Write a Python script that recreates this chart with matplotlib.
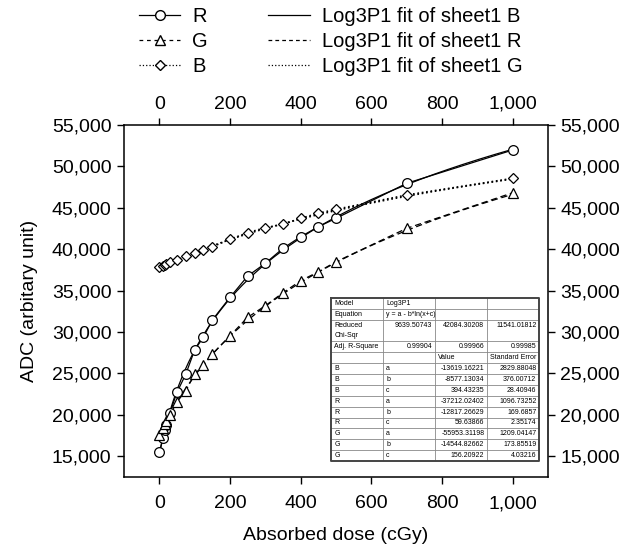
import numpy as np
import matplotlib
matplotlib.use('Agg')
import matplotlib.pyplot as plt
from matplotlib.lines import Line2D
from matplotlib.ticker import FuncFormatter
from matplotlib.transforms import ScaledTranslation

plt.rcParams['font.family'] = ['Liberation Sans', 'DejaVu Sans']

# Absorbed dose (cGy) and ADC readings per channel
dose = [0, 10, 15, 20, 30, 50, 75, 100, 125, 150, 200, 250, 300, 350, 400, 450, 500, 700, 1000]
adc_r = [15520, 17160, 18160, 18770, 20250, 22720, 24930, 27830, 29400, 31450,
         34190, 36760, 38300, 40110, 41510, 42720, 43730, 47960, 51980]
adc_g = [17560, 18400, 18850, 19300, 19980, 21580, 22910, 24930, 26010, 27340,
         29550, 31780, 33180, 34750, 36200, 37280, 38490, 42520, 46820]
adc_b = [37890, 38000, 38090, 38200, 38490, 38700, 39180, 39600, 39950, 40300,
         41200, 42000, 42600, 43000, 43730, 44340, 44820, 46550, 48560]

# Log3P1 fit parameters (y = a - b*ln(x+c)) from the fit report
fit_b = (-13619.16221, -8577.13034, 394.43235)
fit_r = (-37212.02402, -12817.26629, 59.63866)
fit_g = (-55953.31198, -14544.82662, 156.20922)

# fit report table
table_rows = [
    ['Model', 'Log3P1', '', ''],
    ['Equation', 'y = a - b*ln(x+c)', '', ''],
    ['Reduced\nChi-Sqr', '9639.50743', '42084.30208', '11541.01812'],
    ['Adj. R-Square', '0.99904', '0.99966', '0.99985'],
    ['', '', 'Value', 'Standard Error'],
    ['B', 'a', '-13619.16221', '2829.88048'],
    ['B', 'b', '-8577.13034', '376.00712'],
    ['B', 'c', '394.43235', '28.40946'],
    ['R', 'a', '-37212.02402', '1096.73252'],
    ['R', 'b', '-12817.26629', '169.6857'],
    ['R', 'c', '59.63866', '2.35174'],
    ['G', 'a', '-55953.31198', '1209.04147'],
    ['G', 'b', '-14544.82662', '173.85519'],
    ['G', 'c', '156.20922', '4.03216'],
]


def log3p1(x, p):
    a, b, c = p
    return a - b * np.log(x + c)


fig = plt.figure(figsize=(6.41, 5.49), dpi=100)
ax = fig.add_axes([0.1934, 0.1311, 0.6615, 0.6412])

xf = np.linspace(0, 1000, 400)
lw = 0.9
ax.plot(dose, adc_r, '-', color='black', lw=lw, marker='o', ms=7, mfc='white', mec='black', mew=0.9, zorder=3)
ax.plot(dose, adc_g, '--', color='black', lw=lw, marker='^', ms=7, mfc='white', mec='black', mew=0.9,
        dashes=(5, 3), zorder=3)
ax.plot(dose, adc_b, ':', color='black', lw=1.2, marker='D', ms=5.5, mfc='white', mec='black', mew=0.9, zorder=3)
ax.plot(xf, log3p1(xf, fit_r), '-', color='black', lw=lw, zorder=2)
ax.plot(xf, log3p1(xf, fit_g), '--', color='black', lw=lw, dashes=(5, 3), zorder=2)
ax.plot(xf, log3p1(xf, fit_b), ':', color='black', lw=1.2, zorder=2)

ax.set_xlim(-100, 1100)
ax.set_ylim(12500, 55000)
ax.set_xticks([0, 200, 400, 600, 800, 1000])
ax.set_yticks(np.arange(15000, 55001, 5000))
fmt = FuncFormatter(lambda v, pos: f'{v:,.0f}')
ax.xaxis.set_major_formatter(fmt)
ax.yaxis.set_major_formatter(fmt)
ax.tick_params(direction='out', length=5, width=1, labelsize=14, pad=4,
               top=True, right=True, labeltop=True, labelright=True)
for s in ax.spines.values():
    s.set_linewidth(1.1)
# nudge the bottom tick labels down a little
shift = ScaledTranslation(0, -4 / 72, fig.dpi_scale_trans)
for t in ax.xaxis.get_major_ticks():
    t.label1.set_transform(t.label1.get_transform() + shift)
ax.set_xlabel('Absorbed dose (cGy)', fontsize=14, labelpad=11)
ax.set_ylabel('ADC (arbitary unit)', fontsize=14, labelpad=10)

# legend: data series in first column, fits in second
handles = [
    Line2D([], [], color='black', lw=lw, marker='o', ms=7, mfc='white', mec='black'),
    Line2D([], [], color='black', lw=lw, ls='--', dashes=(3, 3), marker='^', ms=7, mfc='white', mec='black'),
    Line2D([], [], color='black', lw=lw, ls=':', marker='D', ms=5.5, mfc='white', mec='black'),
    Line2D([], [], color='black', lw=lw),
    Line2D([], [], color='black', lw=lw, ls='--', dashes=(3, 2.5)),
    Line2D([], [], color='black', lw=lw, ls=':'),
]
labels = ['R', 'G', 'B', 'Log3P1 fit of sheet1 B', 'Log3P1 fit of sheet1 R', 'Log3P1 fit of sheet1 G']
fig.legend(handles, labels, ncol=2, loc='upper left', bbox_to_anchor=(0.2168, 0.988),
           frameon=False, fontsize=14.5, handlelength=2.05, handletextpad=0.6,
           columnspacing=3.0, labelspacing=0.3, borderpad=0, borderaxespad=0)

# fit report table drawn as an inset
n_units = 15
tab = fig.add_axes([0.5164, 0.1603, 0.3245, 0.2969])
tab.set_xlim(0, 4)
tab.set_ylim(n_units, 0)
tab.axis('off')
tab.add_patch(plt.Rectangle((0, 0), 4, n_units, facecolor='white', edgecolor='none', zorder=0))
y = 0
for row in table_rows:
    h = 2 if '\n' in row[0] else 1
    for j, txt in enumerate(row):
        if txt == '':
            continue
        numeric = txt.replace('-', '').replace('.', '').isdigit()
        if numeric:
            tab.text(j + 0.95, y + 0.5, txt, ha='right', va='center', fontsize=5)
        else:
            tab.text(j + 0.06, y + h / 2, txt, ha='left', va='center',
                     fontsize=5, linespacing=1.6)
    y += h
    if y < n_units:
        tab.plot([0, 4], [y, y], color='#888888', lw=0.6)
for j in range(1, 4):
    tab.plot([j, j], [0, n_units], color='#888888', lw=0.6)
tab.plot([0, 4, 4, 0, 0], [0, 0, n_units, n_units, 0], color='#444444', lw=1.4, clip_on=False)

fig.savefig('out.png', dpi=100)
